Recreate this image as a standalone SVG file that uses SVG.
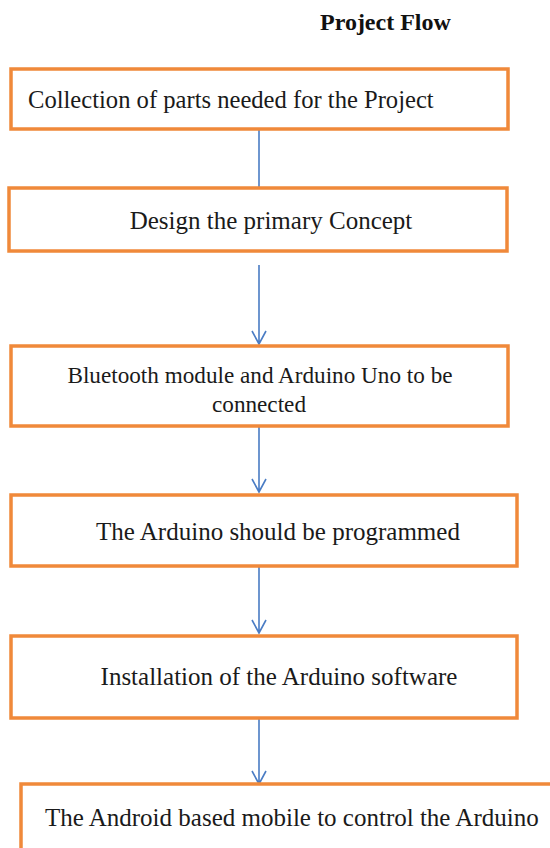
<svg xmlns="http://www.w3.org/2000/svg" width="550" height="848" viewBox="0 0 550 848">
<style>
.box{fill:#ffffff;stroke:#F0893A;stroke-width:3.5}
.t{font-family:"Liberation Serif","Times New Roman",serif;font-size:25px;fill:#1a1a1a}
.s{font-size:23.2px}
.c{text-anchor:middle}
.title{font-family:"Liberation Serif","Times New Roman",serif;font-size:24px;font-weight:bold;fill:#111}
.edge{stroke:#4A7CC4;stroke-width:1.6;fill:none}
</style>
<rect width="550" height="848" fill="#ffffff"/>
<text class="title" x="320" y="30">Project Flow</text>
<g id="connectors">
<line class="edge" x1="259" y1="129" x2="259" y2="188"/>
<path class="edge" d="M259,265 L259,344 M252,331 L259,344 L266,331"/>
<path class="edge" d="M259,426 L259,492 M252,479 L259,492 L266,479"/>
<path class="edge" d="M259,566 L259,633 M252,620 L259,633 L266,620"/>
<path class="edge" d="M259,718 L259,784 M252,771 L259,784 L266,771"/>
</g>
<g id="n1">
<rect class="box" x="11" y="69" width="497" height="60"/>
<text class="t" x="28" y="108" style="font-size:24.6px">Collection of parts needed for the Project</text>
</g>
<g id="n2">
<rect class="box" x="9" y="188" width="498" height="63"/>
<text class="t c" x="271" y="229">Design the primary Concept</text>
</g>
<g id="n3">
<rect class="box" x="11" y="346" width="497" height="80"/>
<text class="t s c" x="260" y="383">Bluetooth module and Arduino Uno to be</text>
<text class="t s c" x="259" y="412">connected</text>
</g>
<g id="n4">
<rect class="box" x="11" y="495" width="506" height="71"/>
<text class="t c" x="278" y="540">The Arduino should be programmed</text>
</g>
<g id="n5">
<rect class="box" x="11" y="636" width="506" height="82"/>
<text class="t c" x="279" y="685">Installation of the Arduino software</text>
</g>
<g id="n6">
<rect class="box" x="21" y="784" width="540" height="80"/>
<text class="t" x="45" y="826">The Android based mobile to control the Arduino</text>
</g>
</svg>
